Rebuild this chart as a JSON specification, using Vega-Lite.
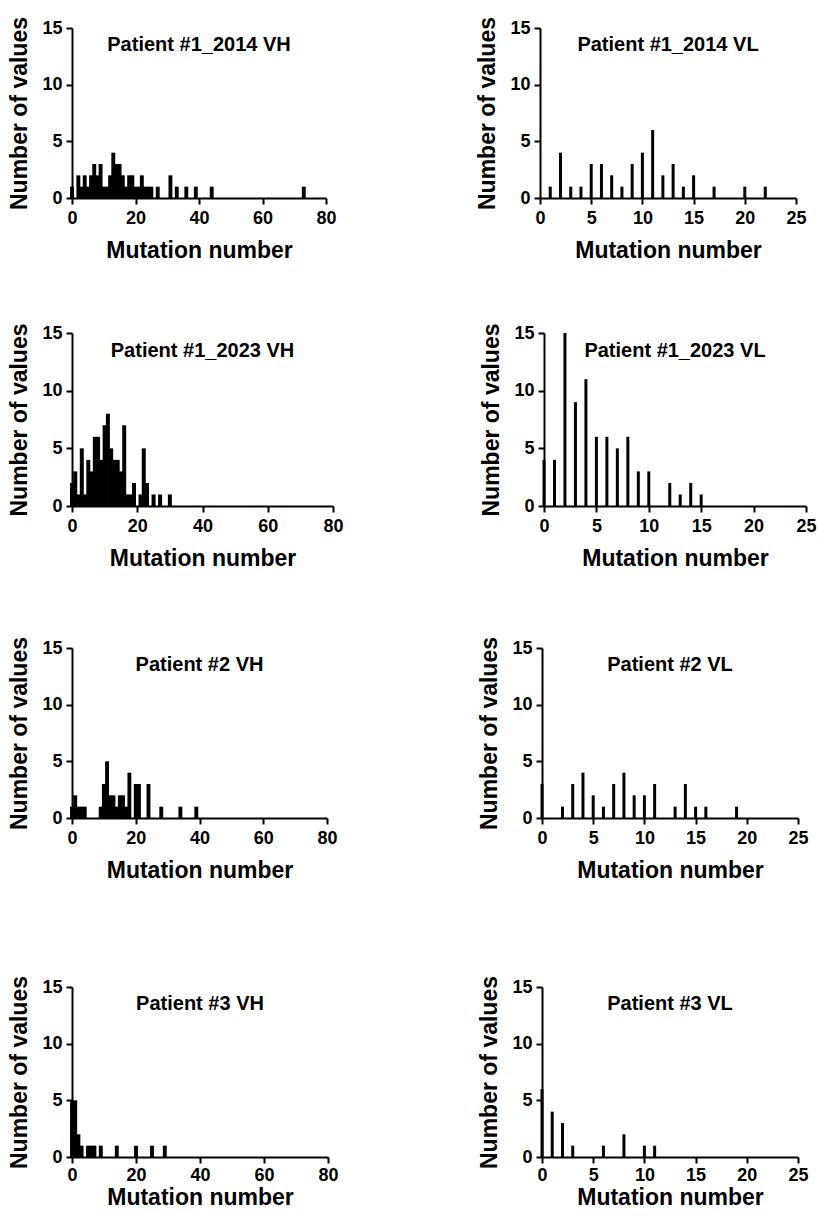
{
  "$schema": "https://vega.github.io/schema/vega-lite/v6.json",
  "padding": {"left": 8, "top": 16, "right": 5, "bottom": 0},
  "background": "white",
  "config": {
    "view": {"stroke": null},
    "scale": {"continuousPadding": 0},
    "axis": {"domainColor": "black", "domainWidth": 2, "tickColor": "black", "tickWidth": 2, "tickSize": 6, "grid": false, "labelFlush": false,
      "labelFont": "Liberation Sans", "labelFontWeight": "bold", "labelFontSize": 18, "labelColor": "black", "labelPadding": 4,
      "titleFont": "Liberation Sans", "titleFontWeight": "bold", "titleFontSize": 23, "titleColor": "black", "titlePadding": 10},
    "axisX": {"labelPadding": 5, "titlePadding": 12},
    "title": {"font": "Liberation Sans", "fontSize": 20, "fontWeight": "bold", "color": "black", "anchor": "middle", "frame": "group", "offset": -38, "baseline": "alphabetic"},
    "bar": {"color": "black"}
  },
  "data": {"values": [
    {"panel": "P1_2014_VH", "mutation": 0, "count": 1},
    {"panel": "P1_2014_VH", "mutation": 2, "count": 2},
    {"panel": "P1_2014_VH", "mutation": 3, "count": 1},
    {"panel": "P1_2014_VH", "mutation": 4, "count": 2},
    {"panel": "P1_2014_VH", "mutation": 5, "count": 1},
    {"panel": "P1_2014_VH", "mutation": 6, "count": 2},
    {"panel": "P1_2014_VH", "mutation": 7, "count": 3},
    {"panel": "P1_2014_VH", "mutation": 8, "count": 2},
    {"panel": "P1_2014_VH", "mutation": 9, "count": 3},
    {"panel": "P1_2014_VH", "mutation": 10, "count": 1},
    {"panel": "P1_2014_VH", "mutation": 11, "count": 1},
    {"panel": "P1_2014_VH", "mutation": 12, "count": 2},
    {"panel": "P1_2014_VH", "mutation": 13, "count": 4},
    {"panel": "P1_2014_VH", "mutation": 14, "count": 3},
    {"panel": "P1_2014_VH", "mutation": 15, "count": 3},
    {"panel": "P1_2014_VH", "mutation": 16, "count": 2},
    {"panel": "P1_2014_VH", "mutation": 17, "count": 1},
    {"panel": "P1_2014_VH", "mutation": 18, "count": 2},
    {"panel": "P1_2014_VH", "mutation": 19, "count": 2},
    {"panel": "P1_2014_VH", "mutation": 20, "count": 1},
    {"panel": "P1_2014_VH", "mutation": 21, "count": 1},
    {"panel": "P1_2014_VH", "mutation": 22, "count": 2},
    {"panel": "P1_2014_VH", "mutation": 23, "count": 1},
    {"panel": "P1_2014_VH", "mutation": 24, "count": 1},
    {"panel": "P1_2014_VH", "mutation": 25, "count": 1},
    {"panel": "P1_2014_VH", "mutation": 27, "count": 1},
    {"panel": "P1_2014_VH", "mutation": 31, "count": 2},
    {"panel": "P1_2014_VH", "mutation": 33, "count": 1},
    {"panel": "P1_2014_VH", "mutation": 36, "count": 1},
    {"panel": "P1_2014_VH", "mutation": 39, "count": 1},
    {"panel": "P1_2014_VH", "mutation": 44, "count": 1},
    {"panel": "P1_2014_VH", "mutation": 73, "count": 1},

    {"panel": "P1_2014_VL", "mutation": 1, "count": 1},
    {"panel": "P1_2014_VL", "mutation": 2, "count": 4},
    {"panel": "P1_2014_VL", "mutation": 3, "count": 1},
    {"panel": "P1_2014_VL", "mutation": 4, "count": 1},
    {"panel": "P1_2014_VL", "mutation": 5, "count": 3},
    {"panel": "P1_2014_VL", "mutation": 6, "count": 3},
    {"panel": "P1_2014_VL", "mutation": 7, "count": 2},
    {"panel": "P1_2014_VL", "mutation": 8, "count": 1},
    {"panel": "P1_2014_VL", "mutation": 9, "count": 3},
    {"panel": "P1_2014_VL", "mutation": 10, "count": 4},
    {"panel": "P1_2014_VL", "mutation": 11, "count": 6},
    {"panel": "P1_2014_VL", "mutation": 12, "count": 2},
    {"panel": "P1_2014_VL", "mutation": 13, "count": 3},
    {"panel": "P1_2014_VL", "mutation": 14, "count": 1},
    {"panel": "P1_2014_VL", "mutation": 15, "count": 2},
    {"panel": "P1_2014_VL", "mutation": 17, "count": 1},
    {"panel": "P1_2014_VL", "mutation": 20, "count": 1},
    {"panel": "P1_2014_VL", "mutation": 22, "count": 1},

    {"panel": "P1_2023_VH", "mutation": 0, "count": 2},
    {"panel": "P1_2023_VH", "mutation": 1, "count": 3},
    {"panel": "P1_2023_VH", "mutation": 2, "count": 1},
    {"panel": "P1_2023_VH", "mutation": 3, "count": 5},
    {"panel": "P1_2023_VH", "mutation": 4, "count": 1},
    {"panel": "P1_2023_VH", "mutation": 5, "count": 4},
    {"panel": "P1_2023_VH", "mutation": 6, "count": 3},
    {"panel": "P1_2023_VH", "mutation": 7, "count": 6},
    {"panel": "P1_2023_VH", "mutation": 8, "count": 6},
    {"panel": "P1_2023_VH", "mutation": 9, "count": 4},
    {"panel": "P1_2023_VH", "mutation": 10, "count": 7},
    {"panel": "P1_2023_VH", "mutation": 11, "count": 8},
    {"panel": "P1_2023_VH", "mutation": 12, "count": 5},
    {"panel": "P1_2023_VH", "mutation": 13, "count": 4},
    {"panel": "P1_2023_VH", "mutation": 14, "count": 4},
    {"panel": "P1_2023_VH", "mutation": 15, "count": 3},
    {"panel": "P1_2023_VH", "mutation": 16, "count": 7},
    {"panel": "P1_2023_VH", "mutation": 17, "count": 1},
    {"panel": "P1_2023_VH", "mutation": 18, "count": 1},
    {"panel": "P1_2023_VH", "mutation": 19, "count": 2},
    {"panel": "P1_2023_VH", "mutation": 21, "count": 1},
    {"panel": "P1_2023_VH", "mutation": 22, "count": 5},
    {"panel": "P1_2023_VH", "mutation": 23, "count": 2},
    {"panel": "P1_2023_VH", "mutation": 25, "count": 1},
    {"panel": "P1_2023_VH", "mutation": 27, "count": 1},
    {"panel": "P1_2023_VH", "mutation": 30, "count": 1},

    {"panel": "P1_2023_VL", "mutation": 0, "count": 4},
    {"panel": "P1_2023_VL", "mutation": 1, "count": 4},
    {"panel": "P1_2023_VL", "mutation": 2, "count": 15},
    {"panel": "P1_2023_VL", "mutation": 3, "count": 9},
    {"panel": "P1_2023_VL", "mutation": 4, "count": 11},
    {"panel": "P1_2023_VL", "mutation": 5, "count": 6},
    {"panel": "P1_2023_VL", "mutation": 6, "count": 6},
    {"panel": "P1_2023_VL", "mutation": 7, "count": 5},
    {"panel": "P1_2023_VL", "mutation": 8, "count": 6},
    {"panel": "P1_2023_VL", "mutation": 9, "count": 3},
    {"panel": "P1_2023_VL", "mutation": 10, "count": 3},
    {"panel": "P1_2023_VL", "mutation": 12, "count": 2},
    {"panel": "P1_2023_VL", "mutation": 13, "count": 1},
    {"panel": "P1_2023_VL", "mutation": 14, "count": 2},
    {"panel": "P1_2023_VL", "mutation": 15, "count": 1},

    {"panel": "P2_VH", "mutation": 0, "count": 1},
    {"panel": "P2_VH", "mutation": 1, "count": 2},
    {"panel": "P2_VH", "mutation": 2, "count": 1},
    {"panel": "P2_VH", "mutation": 3, "count": 1},
    {"panel": "P2_VH", "mutation": 4, "count": 1},
    {"panel": "P2_VH", "mutation": 9, "count": 1},
    {"panel": "P2_VH", "mutation": 10, "count": 3},
    {"panel": "P2_VH", "mutation": 11, "count": 5},
    {"panel": "P2_VH", "mutation": 12, "count": 2},
    {"panel": "P2_VH", "mutation": 13, "count": 2},
    {"panel": "P2_VH", "mutation": 14, "count": 1},
    {"panel": "P2_VH", "mutation": 15, "count": 2},
    {"panel": "P2_VH", "mutation": 16, "count": 2},
    {"panel": "P2_VH", "mutation": 17, "count": 1},
    {"panel": "P2_VH", "mutation": 18, "count": 4},
    {"panel": "P2_VH", "mutation": 20, "count": 3},
    {"panel": "P2_VH", "mutation": 21, "count": 3},
    {"panel": "P2_VH", "mutation": 24, "count": 3},
    {"panel": "P2_VH", "mutation": 28, "count": 1},
    {"panel": "P2_VH", "mutation": 34, "count": 1},
    {"panel": "P2_VH", "mutation": 39, "count": 1},

    {"panel": "P2_VL", "mutation": 0, "count": 3},
    {"panel": "P2_VL", "mutation": 2, "count": 1},
    {"panel": "P2_VL", "mutation": 3, "count": 3},
    {"panel": "P2_VL", "mutation": 4, "count": 4},
    {"panel": "P2_VL", "mutation": 5, "count": 2},
    {"panel": "P2_VL", "mutation": 6, "count": 1},
    {"panel": "P2_VL", "mutation": 7, "count": 3},
    {"panel": "P2_VL", "mutation": 8, "count": 4},
    {"panel": "P2_VL", "mutation": 9, "count": 2},
    {"panel": "P2_VL", "mutation": 10, "count": 2},
    {"panel": "P2_VL", "mutation": 11, "count": 3},
    {"panel": "P2_VL", "mutation": 13, "count": 1},
    {"panel": "P2_VL", "mutation": 14, "count": 3},
    {"panel": "P2_VL", "mutation": 15, "count": 1},
    {"panel": "P2_VL", "mutation": 16, "count": 1},
    {"panel": "P2_VL", "mutation": 19, "count": 1},

    {"panel": "P3_VH", "mutation": 0, "count": 5},
    {"panel": "P3_VH", "mutation": 1, "count": 5},
    {"panel": "P3_VH", "mutation": 2, "count": 2},
    {"panel": "P3_VH", "mutation": 3, "count": 1},
    {"panel": "P3_VH", "mutation": 5, "count": 1},
    {"panel": "P3_VH", "mutation": 6, "count": 1},
    {"panel": "P3_VH", "mutation": 7, "count": 1},
    {"panel": "P3_VH", "mutation": 9, "count": 1},
    {"panel": "P3_VH", "mutation": 14, "count": 1},
    {"panel": "P3_VH", "mutation": 20, "count": 1},
    {"panel": "P3_VH", "mutation": 25, "count": 1},
    {"panel": "P3_VH", "mutation": 29, "count": 1},

    {"panel": "P3_VL", "mutation": 0, "count": 6},
    {"panel": "P3_VL", "mutation": 1, "count": 4},
    {"panel": "P3_VL", "mutation": 2, "count": 3},
    {"panel": "P3_VL", "mutation": 3, "count": 1},
    {"panel": "P3_VL", "mutation": 6, "count": 1},
    {"panel": "P3_VL", "mutation": 8, "count": 2},
    {"panel": "P3_VL", "mutation": 10, "count": 1},
    {"panel": "P3_VL", "mutation": 11, "count": 1}
  ]},
  "vconcat": [
    {
      "vconcat": [
        {
          "vconcat": [
            {
              "hconcat": [
                {
                  "width": 254, "height": 170,
                  "title": "Patient #1_2014 VH",
                  "transform": [{"filter": "datum.panel === 'P1_2014_VH'"}],
                  "mark": {"type": "bar", "orient": "vertical", "width": 3.9, "color": "black"},
                  "encoding": {
                    "x": {"field": "mutation", "type": "quantitative", "scale": {"domain": [0, 80], "nice": false, "padding": 0}, "axis": {"values": [0, 20, 40, 60, 80], "title": "Mutation number"}},
                    "y": {"field": "count", "type": "quantitative", "scale": {"domain": [0, 15], "nice": false}, "axis": {"values": [0, 5, 10, 15], "title": "Number of values"}}
                  }
                },
                {
                  "width": 256, "height": 170,
                  "title": "Patient #1_2014 VL",
                  "transform": [{"filter": "datum.panel === 'P1_2014_VL'"}],
                  "mark": {"type": "bar", "orient": "vertical", "width": 3, "color": "black"},
                  "encoding": {
                    "x": {"field": "mutation", "type": "quantitative", "scale": {"domain": [0, 25], "nice": false, "padding": 0}, "axis": {"values": [0, 5, 10, 15, 20, 25], "title": "Mutation number"}},
                    "y": {"field": "count", "type": "quantitative", "scale": {"domain": [0, 15], "nice": false}, "axis": {"values": [0, 5, 10, 15], "title": "Number of values"}}
                  }
                }
              ],
              "spacing": 139
            },
            {
              "hconcat": [
                {
                  "width": 261, "height": 173,
                  "title": "Patient #1_2023 VH",
                  "transform": [{"filter": "datum.panel === 'P1_2023_VH'"}],
                  "mark": {"type": "bar", "orient": "vertical", "width": 4, "color": "black"},
                  "encoding": {
                    "x": {"field": "mutation", "type": "quantitative", "scale": {"domain": [0, 80], "nice": false, "padding": 0}, "axis": {"values": [0, 20, 40, 60, 80], "title": "Mutation number"}},
                    "y": {"field": "count", "type": "quantitative", "scale": {"domain": [0, 15], "nice": false}, "axis": {"values": [0, 5, 10, 15], "title": "Number of values"}}
                  }
                },
                {
                  "width": 262, "height": 173,
                  "title": "Patient #1_2023 VL",
                  "transform": [{"filter": "datum.panel === 'P1_2023_VL'"}],
                  "mark": {"type": "bar", "orient": "vertical", "width": 3, "color": "black"},
                  "encoding": {
                    "x": {"field": "mutation", "type": "quantitative", "scale": {"domain": [0, 25], "nice": false, "padding": 0}, "axis": {"values": [0, 5, 10, 15, 20, 25], "title": "Mutation number"}},
                    "y": {"field": "count", "type": "quantitative", "scale": {"domain": [0, 15], "nice": false}, "axis": {"values": [0, 5, 10, 15], "title": "Number of values"}}
                  }
                }
              ],
              "spacing": 136
            }
          ],
          "spacing": 61
        },
        {
          "hconcat": [
            {
              "width": 255, "height": 170,
              "title": "Patient #2 VH",
              "transform": [{"filter": "datum.panel === 'P2_VH'"}],
              "mark": {"type": "bar", "orient": "vertical", "width": 3.9, "color": "black"},
              "encoding": {
                "x": {"field": "mutation", "type": "quantitative", "scale": {"domain": [0, 80], "nice": false, "padding": 0}, "axis": {"values": [0, 20, 40, 60, 80], "title": "Mutation number"}},
                "y": {"field": "count", "type": "quantitative", "scale": {"domain": [0, 15], "nice": false}, "axis": {"values": [0, 5, 10, 15], "title": "Number of values"}}
              }
            },
            {
              "width": 256, "height": 170,
              "title": "Patient #2 VL",
              "transform": [{"filter": "datum.panel === 'P2_VL'"}],
              "mark": {"type": "bar", "orient": "vertical", "width": 3, "color": "black"},
              "encoding": {
                "x": {"field": "mutation", "type": "quantitative", "scale": {"domain": [0, 25], "nice": false, "padding": 0}, "axis": {"values": [0, 5, 10, 15, 20, 25], "title": "Mutation number"}},
                "y": {"field": "count", "type": "quantitative", "scale": {"domain": [0, 15], "nice": false}, "axis": {"values": [0, 5, 10, 15], "title": "Number of values"}}
              }
            }
          ],
          "spacing": 140
        }
      ],
      "spacing": 66
    },
    {
      "hconcat": [
        {
          "width": 256, "height": 170,
          "title": "Patient #3 VH",
          "transform": [{"filter": "datum.panel === 'P3_VH'"}],
          "mark": {"type": "bar", "orient": "vertical", "width": 3.9, "color": "black"},
          "encoding": {
            "x": {"field": "mutation", "type": "quantitative", "scale": {"domain": [0, 80], "nice": false, "padding": 0}, "axis": {"values": [0, 20, 40, 60, 80], "title": "Mutation number", "labelPadding": 3, "titlePadding": 2}},
            "y": {"field": "count", "type": "quantitative", "scale": {"domain": [0, 15], "nice": false}, "axis": {"values": [0, 5, 10, 15], "title": "Number of values"}}
          }
        },
        {
          "width": 256, "height": 170,
          "title": "Patient #3 VL",
          "transform": [{"filter": "datum.panel === 'P3_VL'"}],
          "mark": {"type": "bar", "orient": "vertical", "width": 3, "color": "black"},
          "encoding": {
            "x": {"field": "mutation", "type": "quantitative", "scale": {"domain": [0, 25], "nice": false, "padding": 0}, "axis": {"values": [0, 5, 10, 15, 20, 25], "title": "Mutation number", "labelPadding": 3, "titlePadding": 2}},
            "y": {"field": "count", "type": "quantitative", "scale": {"domain": [0, 15], "nice": false}, "axis": {"values": [0, 5, 10, 15], "title": "Number of values"}}
          }
        }
      ],
      "spacing": 139
    }
  ],
  "spacing": 93
}
